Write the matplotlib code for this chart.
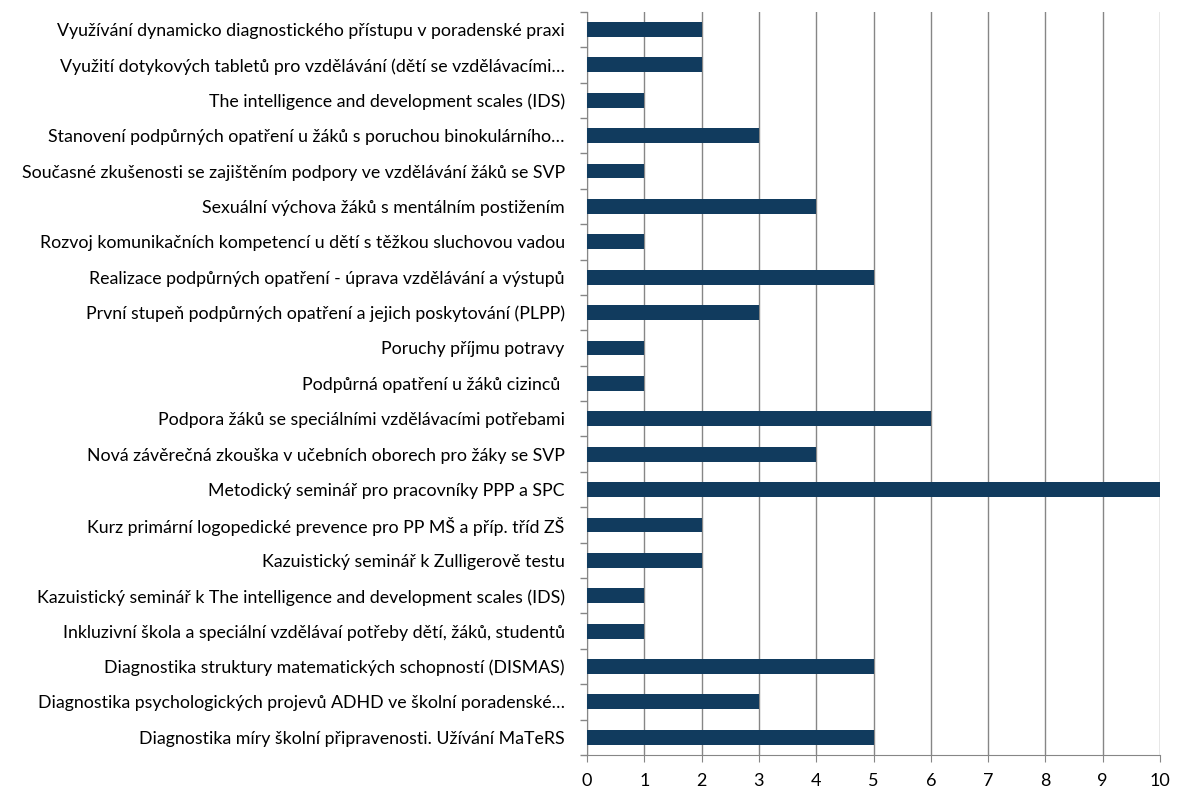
import numpy as np
import matplotlib.pyplot as plt
from matplotlib.ticker import FixedLocator

# categories listed bottom to top, as Excel draws them
labels = [
    "Diagnostika míry školní připravenosti. Užívání MaTeRS",
    "Diagnostika psychologických projevů ADHD ve školní poradenské…",
    "Diagnostika struktury matematických schopností (DISMAS)",
    "Inkluzivní škola a speciální vzdělávaí potřeby dětí, žáků, studentů",
    "Kazuistický seminář k The intelligence and development scales (IDS)",
    "Kazuistický seminář k Zulligerově testu",
    "Kurz primární logopedické prevence pro PP MŠ a příp. tříd ZŠ",
    "Metodický seminář pro pracovníky PPP a SPC",
    "Nová závěrečná zkouška v učebních oborech pro žáky se SVP",
    "Podpora žáků se speciálními vzdělávacími potřebami",
    "Podpůrná opatření u žáků cizinců ",
    "Poruchy příjmu potravy",
    "První stupeň podpůrných opatření a jejich poskytování (PLPP)",
    "Realizace podpůrných opatření - úprava vzdělávání a výstupů",
    "Rozvoj komunikačních kompetencí u dětí s těžkou sluchovou vadou",
    "Sexuální výchova žáků s mentálním postižením",
    "Současné zkušenosti se zajištěním podpory ve vzdělávání žáků se SVP",
    "Stanovení podpůrných opatření u žáků s poruchou binokulárního…",
    "The intelligence and development scales (IDS)",
    "Využití dotykových tabletů pro vzdělávání (dětí se vzdělávacími…",
    "Využívání dynamicko diagnostického přístupu v poradenské praxi",
]
values = [5, 3, 5, 1, 1, 2, 2, 10, 4, 6, 1, 1, 3, 5, 1, 4, 1, 3, 1, 2, 2]
x_ticks = list(range(0, 11))

plt.rcParams['font.family'] = ['Lato', 'DejaVu Sans']

fig = plt.figure(figsize=(11.77, 7.87), dpi=100)
ax = fig.add_axes([0.4987, 0.0407, 0.4869, 0.9443])

y = np.arange(len(labels))
ax.barh(y, values, height=0.42, color="#113b5e", zorder=3)

ax.set_xlim(0, 10)
ax.set_ylim(-0.5, len(labels) - 0.5)
ax.set_xticks(x_ticks)
ax.set_yticks(y)
ax.set_yticklabels(labels, fontsize=12.8)
ax.yaxis.set_minor_locator(FixedLocator(np.arange(-0.5, len(labels), 1.0)))
ax.tick_params(axis="y", which="major", length=0, pad=16)
ax.tick_params(axis="y", which="minor", length=5, color="#868686", width=1)
ax.tick_params(axis="x", length=5, color="#868686", labelsize=13, pad=8)

ax.grid(axis="x", color="#868686", linewidth=1, zorder=0)
for side in ("top", "right"):
    ax.spines[side].set_visible(False)
for side in ("left", "bottom"):
    ax.spines[side].set_color("#868686")

fig.savefig("out.png", dpi=100)
